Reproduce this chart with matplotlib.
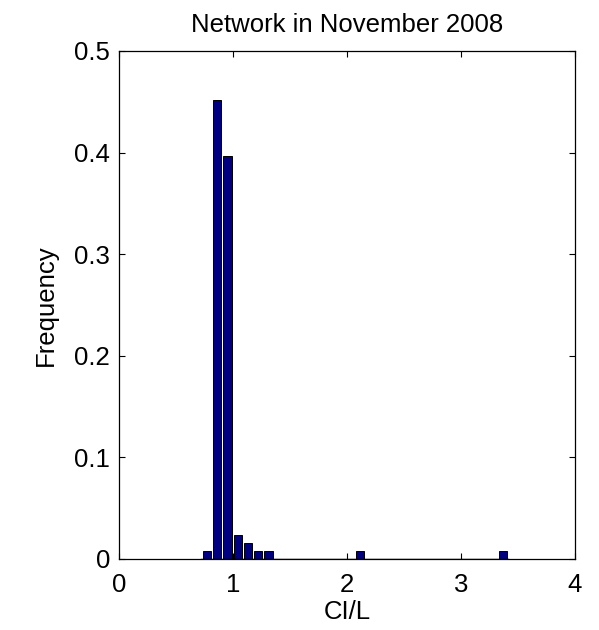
import matplotlib
matplotlib.use("Agg")
import matplotlib.pyplot as plt

# histogram of CI/L (30 bins), only the non-empty bins are listed
bin_centers = [0.772, 0.862, 0.951, 1.041, 1.131, 1.220, 1.310, 2.116, 3.366]
frequency = [0.008, 0.452, 0.397, 0.024, 0.016, 0.008, 0.008, 0.008, 0.008]

x_ticks = [0, 1, 2, 3, 4]
y_ticks = [0, 0.1, 0.2, 0.3, 0.4, 0.5]
y_tick_labels = ["0", "0.1", "0.2", "0.3", "0.4", "0.5"]

plt.rcParams['font.family'] = ['Liberation Sans', 'DejaVu Sans']

fig = plt.figure(figsize=(5.99, 6.30), dpi=100)
ax = fig.add_axes([119 / 599, 1 - 559 / 630, 456 / 599, 508 / 630])

ax.bar(bin_centers, frequency, width=0.073, color='#000080',
       edgecolor='black', linewidth=0.7)
# baseline drawn by the empty bins in matlab
ax.axhline(0, xmin=0.18, xmax=0.853, color='black', linewidth=1.0, zorder=1)

ax.set_xlim(0, 4)
ax.set_ylim(0, 0.5)
ax.set_xticks(x_ticks)
ax.set_xticklabels([str(t) for t in x_ticks])
ax.set_yticks(y_ticks)
ax.set_yticklabels(y_tick_labels)

ax.tick_params(direction='in', top=True, right=True, length=4, width=0.8,
               labelsize=18.5)
ax.tick_params(axis='x', pad=10)
ax.tick_params(axis='y', pad=6.5)
for s in ax.spines.values():
    s.set_linewidth(0.9)

ax.set_title("Network in November 2008", fontsize=18.5, pad=13.5)
ax.set_xlabel("CI/L", fontsize=18.5, labelpad=2)
ax.set_ylabel("Frequency", fontsize=18.5, labelpad=12)

fig.savefig("out.png", dpi=100)
